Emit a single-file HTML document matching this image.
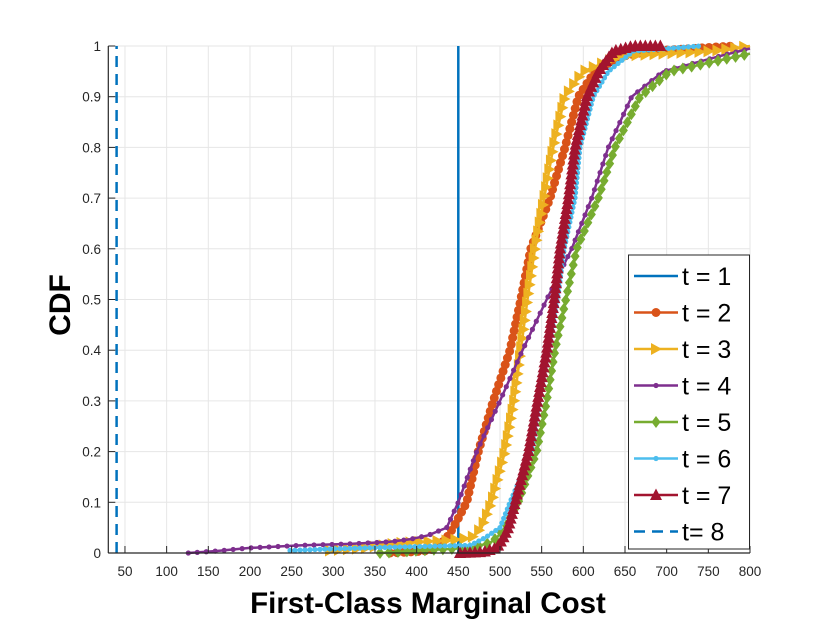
<!DOCTYPE html>
<html><head><meta charset="utf-8"><style>
body{margin:0;background:#fff;}
svg{display:block;font-family:"Liberation Sans",Arial,sans-serif;}
</style></head><body>
<svg id="chart" width="830" height="623" viewBox="0 0 830 623" xmlns="http://www.w3.org/2000/svg">
<g id="grid"></g>
<g id="series"></g>
<g id="axes"></g>
<text x="0" y="0" transform="translate(70,305) rotate(-90)" text-anchor="middle" font-size="30" font-weight="bold" fill="#000">CDF</text>
<text x="428" y="613" text-anchor="middle" font-size="29.5" font-weight="bold" fill="#000">First-Class Marginal Cost</text>
<g id="legend"></g>
</svg>
<script>
const xTicks=[50,100,150,200,250,300,350,400,450,500,550,600,650,700,750,800];
const yTicks=[0,0.1,0.2,0.3,0.4,0.5,0.6,0.7,0.8,0.9,1];
const yTickLabels=["0","0.1","0.2","0.3","0.4","0.5","0.6","0.7","0.8","0.9","1"];
const seriesNames=["t = 1","t = 2","t = 3","t = 4","t = 5","t = 6","t = 7","t= 8"];
const t1X=[450,450]; const t1Y=[0,1];
const t2X=[368,400,416,430,436,444,460,474,492,512,525,537,560,578,594,614,648,680,780];
const t2Y=[0,0.003,0.005,0.02,0.03,0.05,0.1,0.2,0.3,0.4,0.5,0.6,0.7,0.8,0.9,0.95,0.98,0.99,1];
const t3X=[296,340,380,440,466,478,490,506,517,525,533,542,553,564,578,600,644,756,800];
const t3Y=[0.005,0.01,0.02,0.025,0.03,0.05,0.1,0.2,0.3,0.4,0.5,0.6,0.7,0.8,0.9,0.95,0.98,0.99,1];
const t4X=[126,160,200,260,320,368,392,414,436,450,472,500,527,556,586,610,630,658,696,764,800];
const t4Y=[0,0.004,0.01,0.015,0.018,0.022,0.027,0.035,0.05,0.1,0.2,0.3,0.4,0.5,0.6,0.7,0.8,0.9,0.95,0.98,0.995];
const t5X=[356,404,464,488,496,506,522,544,556,566,579,592,618,638,668,704,800];
const t5Y=[0,0.005,0.01,0.02,0.03,0.05,0.1,0.2,0.3,0.4,0.5,0.6,0.7,0.8,0.9,0.95,0.985];
const t6X=[248,300,380,464,482,500,512,538,548,559,569,577,590,596,612,630,660,740];
const t6Y=[0.005,0.008,0.012,0.015,0.03,0.05,0.1,0.2,0.3,0.4,0.5,0.6,0.7,0.8,0.9,0.95,0.99,1];
const t7X=[452,480,496,504,510,518,534,545,556,565,572,582,590,604,618,636,660,696];
const t7Y=[0,0.002,0.01,0.03,0.05,0.1,0.2,0.3,0.4,0.5,0.6,0.7,0.8,0.9,0.95,0.99,1,1];
const t8X=[40,40]; const t8Y=[0,1];

const NS="http://www.w3.org/2000/svg";
const X0=108.3,X1=750,XMIN=30,XMAX=800,Y0=553,Y1=46;
function sx(v){return X0+(v-XMIN)/(XMAX-XMIN)*(X1-X0);}
function sy(v){return Y0-(v)*(Y0-Y1);}
function mk(tag,attrs,parent){const e=document.createElementNS(NS,tag);for(const k in attrs)e.setAttribute(k,attrs[k]);parent.appendChild(e);return e;}
const grid=document.getElementById('grid'),axes=document.getElementById('axes'),ser=document.getElementById('series'),leg=document.getElementById('legend');
xTicks.forEach(v=>{
  const g=mk('line',{x1:sx(v),x2:sx(v),y1:Y1,y2:Y0,stroke:'#e6e6e6','stroke-width':1},grid);
  
  
  const t=mk('line',{x1:sx(v),x2:sx(v),y1:Y0,y2:Y0-7,stroke:'#262626','stroke-width':1},axes);
  
  
  const l=mk('text',{x:sx(v),y:576,'text-anchor':'middle','font-size':13.5,fill:'#262626'},axes);
  l.textContent=v;
  
  
});
yTicks.forEach((v,i)=>{
  const g=mk('line',{x1:X0,x2:X1,y1:sy(v),y2:sy(v),stroke:'#e6e6e6','stroke-width':1},grid);
  
  
  const t=mk('line',{x1:X0,x2:X0+7,y1:sy(v),y2:sy(v),stroke:'#262626','stroke-width':1},axes);
  
  
  const l=mk('text',{x:101,y:sy(v)+5,'text-anchor':'end','font-size':13.5,fill:'#262626'},axes);
  l.textContent=yTickLabels[i];
  
  
});
const ax1=mk('line',{x1:X0,x2:X0,y1:Y1,y2:Y0,stroke:'#262626','stroke-width':1.2},axes);


const ax2=mk('line',{x1:X0,x2:X1,y1:Y0,y2:Y0,stroke:'#262626','stroke-width':1.2},axes);



function marker(type,x,y,c,parent){
  let e;
  if(type==='circle'){e=mk('circle',{cx:x,cy:y,r:4.5,fill:c},parent);}
  else if(type==='dot'){e=mk('circle',{cx:x,cy:y,r:2.6,fill:c},parent);}
  else if(type==='right'){e=mk('polygon',{points:`${x+6},${y} ${x-5},${y-6} ${x-5},${y+6}`,fill:c},parent);}
  else if(type==='up'){e=mk('polygon',{points:`${x},${y-6.5} ${x-6},${y+5} ${x+6},${y+5}`,fill:c},parent);}
  else if(type==='diamond'){e=mk('polygon',{points:`${x},${y-6} ${x+4.5},${y} ${x},${y+6} ${x-4.5},${y}`,fill:c},parent);}
  return e;
}
const defs=[
 {xs:t1X,ys:t1Y,c:'#0072BD',m:null,name:'series-t1'},
 {xs:t2X,ys:t2Y,c:'#D95319',m:'circle',name:'series-t2',sp:7},
 {xs:t3X,ys:t3Y,c:'#EDB120',m:'right',name:'series-t3',sp:9},
 {xs:t4X,ys:t4Y,c:'#7E2F8E',m:'dot',name:'series-t4',sp:9},
 {xs:t5X,ys:t5Y,c:'#77AC30',m:'diamond',name:'series-t5',sp:9},
 {xs:t6X,ys:t6Y,c:'#4DBEEE',m:'dot',name:'series-t6',sp:5},
 {xs:t7X,ys:t7Y,c:'#A2142F',m:'up',name:'series-t7',sp:5},
 {xs:t8X,ys:t8Y,c:'#0072BD',m:null,name:'series-t8',dash:true}
];
defs.forEach(d=>{
  const g=mk('g',{},ser);
  
  
  const pts=d.xs.map((v,i)=>sx(v).toFixed(1)+','+sy(d.ys[i]).toFixed(1)).join(' ');
  const p=mk('polyline',{points:pts,fill:'none',stroke:d.c,'stroke-width':2.5,'stroke-linejoin':'round'},g);
  if(d.dash)p.setAttribute('stroke-dasharray','11 7');
  
  
  if(d.m){
    const tmp=mk('path',{d:'M'+pts.split(' ').join(' L'),fill:'none'},g);
    const L=tmp.getTotalLength();
    for(let s=0;s<=L;s+=d.sp){
      const pt=tmp.getPointAtLength(s);
      const m=marker(d.m,pt.x,pt.y,d.c,g);
      
      
    }
    tmp.remove();
  }
});
// legend
const box=mk('rect',{x:628.5,y:255,width:121,height:294,fill:'#fff',stroke:'#262626','stroke-width':1},leg);


defs.forEach((d,i)=>{
  const y=276+i*36.5;
  const g=mk('g',{},leg);
  
  
  const l=mk('line',{x1:634,x2:678,y1:y,y2:y,stroke:d.c,'stroke-width':2.5},g);
  if(d.dash)l.setAttribute('stroke-dasharray','11 7');
  if(d.m)marker(d.m,656,y,d.c,g);
  const t=mk('text',{x:682,y:y+9,'font-size':25,fill:'#000'},g);
  t.textContent=seriesNames[i];
});
</script>
</body></html>
